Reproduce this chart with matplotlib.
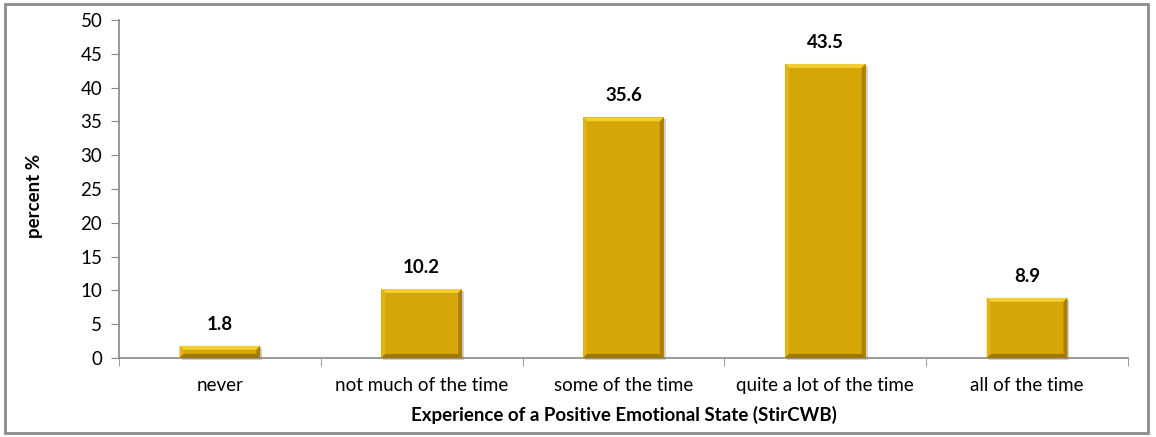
import matplotlib
matplotlib.use("Agg")
import matplotlib.pyplot as plt
from matplotlib.patches import Polygon, Rectangle
import numpy as np

categories = ["never", "not much of the time", "some of the time",
              "quite a lot of the time", "all of the time"]
values = [1.8, 10.2, 35.6, 43.5, 8.9]
yticks = [0, 5, 10, 15, 20, 25, 30, 35, 40, 45, 50]

plt.rcParams['font.family'] = ['Lato', 'DejaVu Sans']

W, H = 1156, 437
fig = plt.figure(figsize=(W / 100, H / 100), dpi=100)
ax = fig.add_axes([119 / W, 1 - 358 / H, (1128 - 119) / W, (358 - 20) / H])
ax.patch.set_alpha(0)

x = np.arange(len(categories))
bars = ax.bar(x, values, width=0.4, color="#D6A506", edgecolor="none", zorder=2)

FS = 13.5
ax.set_xlim(-0.5, len(categories) - 0.5)
ax.set_ylim(0, 50)
ax.set_yticks(yticks)
ax.set_yticklabels([str(t) for t in yticks], fontsize=FS)
ax.set_xticks(x)
ax.set_xticklabels(categories, fontsize=FS)
ax.tick_params(axis='x', length=0, pad=14)
ax.set_xticks(np.arange(-0.5, len(categories), 1), minor=True)
ax.tick_params(axis='x', which='minor', length=6, color="#888888", direction='out')
ax.tick_params(axis='y', length=6, color="#888888", direction='out', pad=6)

for s in ['top', 'right']:
    ax.spines[s].set_visible(False)
for s in ['left', 'bottom']:
    ax.spines[s].set_color("#888888")
    ax.spines[s].set_linewidth(1.2)

ax.set_xlabel("Experience of a Positive Emotional State (StirCWB)",
              fontsize=FS, fontweight='bold', labelpad=8)
ax.set_ylabel("percent %", fontsize=FS, fontweight='bold')
ax.yaxis.set_label_coords(-0.0753, 0.479)

# value labels
for b, v in zip(bars, values):
    ax.annotate(f"{v:.1f}", (b.get_x() + b.get_width() / 2, b.get_height()),
                xytext=(0, 9.5), textcoords='offset points',
                ha='center', va='bottom', fontsize=FS, fontweight='bold')

# bevel effect
fig.canvas.draw()
inv = fig.transFigure.inverted()
bev = 4
for b in bars:
    bb = b.get_window_extent()
    x0, y0, x1, y1 = bb.x0, bb.y0, bb.x1, bb.y1
    d = min(bev, (y1 - y0) / 2)
    def poly(pts, color, alpha=1.0, z=3):
        p = Polygon(inv.transform(pts), closed=True, transform=fig.transFigure,
                    facecolor=color, edgecolor='none', alpha=alpha, zorder=z)
        fig.add_artist(p)
    # shadow behind
    poly([(x0 + 2, y0 - 2), (x1 + 2, y0 - 2), (x1 + 2, y1 - 2), (x0 + 2, y1 - 2)],
         "#000000", alpha=0.18, z=-1)
    # top
    poly([(x0, y1), (x1, y1), (x1 - d, y1 - d), (x0 + d, y1 - d)], "#F2CE35")
    # left
    poly([(x0, y0), (x0, y1), (x0 + d, y1 - d), (x0 + d, y0 + d)], "#E2B314")
    # right
    poly([(x1, y0), (x1, y1), (x1 - d, y1 - d), (x1 - d, y0 + d)], "#A98005")
    # bottom
    poly([(x0, y0), (x1, y0), (x1 - d, y0 + d), (x0 + d, y0 + d)], "#9E7806")

# outer border
fig.add_artist(Rectangle((5 / W, 1 - 433 / H), (1148 - 5) / W, (433 - 4) / H,
                         transform=fig.transFigure, fill=False,
                         edgecolor="#8C8C8C", linewidth=2))

fig.savefig("out.png", dpi=100)
